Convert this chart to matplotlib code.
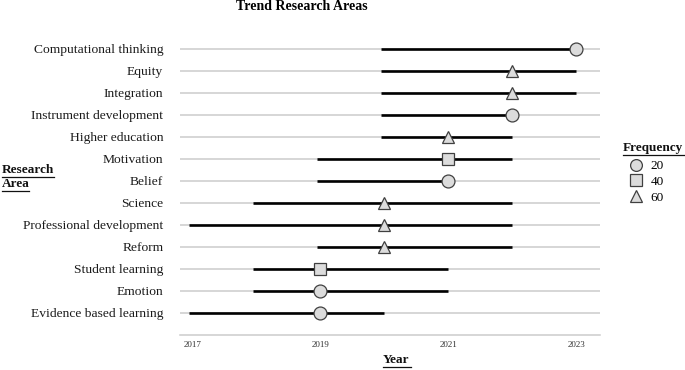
import matplotlib
matplotlib.use("Agg")
import matplotlib.pyplot as plt
from matplotlib.lines import Line2D

plt.rcParams['font.family'] = ['Liberation Serif', 'DejaVu Serif']

# rows listed bottom to top
areas = ['Evidence based learning', 'Emotion', 'Student learning', 'Reform',
         'Professional development', 'Science', 'Belief', 'Motivation',
         'Higher education', 'Instrument development', 'Integration',
         'Equity', 'Computational thinking']
start_year = [2017, 2018, 2018, 2019, 2017, 2018, 2019, 2019, 2020, 2020, 2020, 2020, 2020]
end_year = [2020, 2021, 2021, 2022, 2022, 2022, 2021, 2022, 2022, 2022, 2023, 2023, 2023]
peak_year = [2019, 2019, 2019, 2020, 2020, 2020, 2021, 2021, 2021, 2022, 2022, 2022, 2023]
frequency = [20, 20, 40, 60, 60, 60, 20, 40, 60, 20, 60, 60, 20]

freq_levels = [20, 40, 60]
freq_marker = {20: 'o', 40: 's', 60: '^'}
year_ticks = [2017, 2019, 2021, 2023]

W, H = 685, 370
fig = plt.figure(figsize=(W / 100, H / 100), dpi=100)
ax = fig.add_axes([180 / W, (H - 335) / H, 420 / W, 295 / H])

grey = '#cccccc'
fill = '#dcdcdc'
edge = '#404040'

for i, name in enumerate(areas):
    ax.axhline(i, color=grey, lw=1.1, zorder=1)
    ax.plot([start_year[i] - 0.05, end_year[i]], [i, i], color='black', lw=1.9,
            solid_capstyle='butt', zorder=2)
    ax.plot(peak_year[i], i, marker=freq_marker[frequency[i]], ms=9.3,
            mfc=fill, mec=edge, mew=0.9, zorder=3, linestyle='none')

ax.set_xlim(2016.81, 2023.37)
ax.set_ylim(-1, 12.4)
ax.set_yticks(range(len(areas)))
ax.set_yticklabels(areas, fontsize=9.7, color='#1a1a1a')
ax.set_xticks(year_ticks)
ax.set_xticklabels([str(y) for y in year_ticks], fontsize=6.5, color='#333333')
ax.tick_params(axis='both', length=0)
ax.tick_params(axis='y', pad=12)
ax.tick_params(axis='x', pad=4)
for s in ['top', 'right', 'left']:
    ax.spines[s].set_visible(False)
ax.spines['bottom'].set_color(grey)
ax.spines['bottom'].set_linewidth(1.1)

fig.text(302 / W, 1 - 6 / H, 'Trend Research Areas', ha='center', va='center',
         fontsize=10, fontweight='bold')


def underlined(x, y, s, size, width):
    fig.text(x / W, 1 - y / H, s, ha='left', va='center', fontsize=size,
             fontweight='bold', color='#111111')
    fig.add_artist(Line2D([x / W, (x + width) / W],
                          [1 - (y + 7) / H, 1 - (y + 7) / H],
                          color='#111111', lw=0.9))


underlined(2, 170, 'Research', 9.5, 52)
underlined(2, 184, 'Area', 9.5, 27)
underlined(383, 360, 'Year', 9.5, 28)
underlined(623, 148, 'Frequency', 9.5, 61)

handles = [Line2D([], [], marker=freq_marker[f], ms=8.5, mfc=fill, mec=edge,
                  mew=0.9, linestyle='none') for f in freq_levels]
fig.legend(handles, [str(f) for f in freq_levels], loc='upper left',
           bbox_to_anchor=(620 / W, 1 - 151 / H), frameon=False,
           fontsize=9.5, handlelength=1.0, handletextpad=0.6,
           labelspacing=0.25, borderpad=0.2)

fig.savefig('out.png', dpi=100)
